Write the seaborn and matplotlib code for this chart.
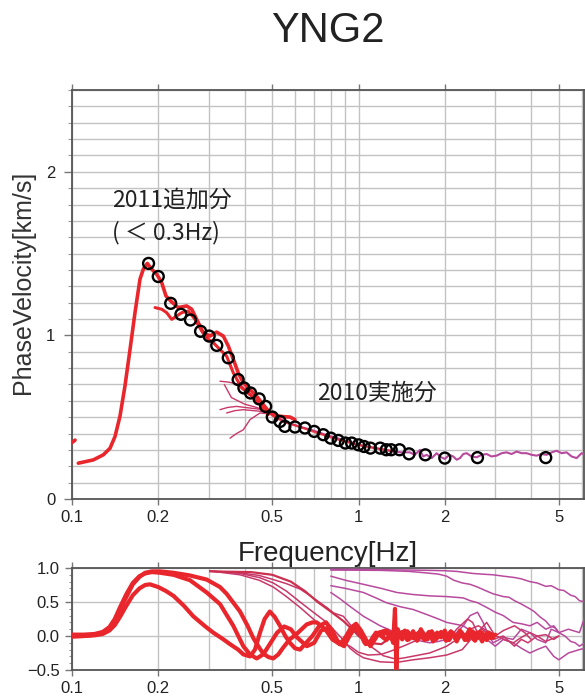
import matplotlib
matplotlib.use("Agg")
import matplotlib.pyplot as plt
import seaborn as sns
import pandas as pd
from matplotlib.ticker import FixedLocator, NullFormatter, MultipleLocator

# ---------------- data ----------------
title_text = "YNG2"
ylabel_text = "PhaseVelocity[km/s]"
xlabel_text = "Frequency[Hz]"
note_2011 = "2011追加分"
note_2011b = "( ＜ 0.3Hz)"
note_2010 = "2010実施分"

x_major = [0.1, 0.2, 0.5, 1, 2, 5]
x_major_labels = ["0.1", "0.2", "0.5", "1", "2", "5"]
x_minor = [0.3, 0.4, 0.6, 0.7, 0.8, 0.9, 3, 4, 6]
top_yticks = [0, 1, 2]
bot_yticks = [-0.5, 0.0, 0.5, 1.0]
bot_ylabels = ["\u22120.5", "0.0", "0.5", "1.0"]

# black circles: picked dispersion curve
circ_f = [0.185, 0.200, 0.221, 0.240, 0.259, 0.281, 0.301, 0.320, 0.351, 0.380,
          0.398, 0.420, 0.450, 0.474, 0.500, 0.532, 0.553, 0.600, 0.650, 0.700,
          0.753, 0.800, 0.850, 0.900, 0.946, 1.000, 1.045, 1.100, 1.190, 1.250,
          1.300, 1.390, 1.500, 1.710, 2.000, 2.600, 4.500]
circ_v = [1.44, 1.36, 1.196, 1.129, 1.094, 1.025, 0.996, 0.939, 0.863, 0.730,
          0.679, 0.648, 0.612, 0.566, 0.501, 0.474, 0.444, 0.440, 0.434, 0.413,
          0.393, 0.372, 0.358, 0.342, 0.342, 0.331, 0.321, 0.311, 0.311, 0.301,
          0.301, 0.301, 0.276, 0.270, 0.250, 0.253, 0.253]

# top panel, 2011 (red) phase velocity curves
pv2011_a = [(0.1052, 0.219), (0.1187, 0.239), (0.1286, 0.27), (0.1357, 0.31), (0.1413, 0.382),
            (0.147, 0.505), (0.153, 0.689), (0.1594, 0.914), (0.1659, 1.139), (0.1727, 1.344),
            (0.1774, 1.405), (0.1832, 1.44), (0.1897, 1.405), (0.1975, 1.374), (0.2056, 1.323),
            (0.2128, 1.241), (0.2228, 1.204), (0.235, 1.17), (0.2512, 1.18), (0.2617, 1.16),
            (0.2723, 1.098), (0.2872, 1.016), (0.303, 0.996), (0.3198, 1.02), (0.3373, 0.996),
            (0.3512, 0.935), (0.3656, 0.853), (0.3804, 0.771), (0.3961, 0.71), (0.418, 0.669),
            (0.441, 0.628), (0.465, 0.577), (0.491, 0.526), (0.532, 0.505), (0.576, 0.501),
            (0.6, 0.485)]
pv2011_b = [(0.1949, 1.17), (0.2056, 1.16), (0.214, 1.139), (0.2228, 1.098), (0.2317, 1.118),
            (0.2415, 1.139), (0.2546, 1.149), (0.2687, 1.098), (0.2836, 1.027), (0.2989, 0.976),
            (0.3114, 0.955), (0.3284, 0.914), (0.3465, 0.873), (0.3656, 0.771), (0.391, 0.679),
            (0.424, 0.628), (0.453, 0.577), (0.484, 0.516)]
pv2011_c = [(0.5, 0.51), (0.55, 0.47), (0.6, 0.45), (0.65, 0.43), (0.7, 0.41), (0.76, 0.39),
            (0.82, 0.37), (0.88, 0.355), (0.95, 0.34), (1.0, 0.33), (1.07, 0.32), (1.15, 0.31),
            (1.25, 0.30), (1.35, 0.29)]
pv2011_edge = [(0.1, 0.345), (0.1025, 0.36)]

# top panel, 2010 (magenta) phase velocity curves
pv2010_main = [(0.478, 0.53), (0.505, 0.51), (0.532, 0.49), (0.56, 0.47), (0.592, 0.455),
               (0.63, 0.44), (0.677, 0.425), (0.72, 0.41), (0.774, 0.39), (0.83, 0.375),
               (0.885, 0.36), (0.95, 0.345), (1.011, 0.33), (1.08, 0.32), (1.157, 0.31),
               (1.24, 0.30), (1.322, 0.29), (1.41, 0.285), (1.511, 0.285), (1.57, 0.27),
               (1.638, 0.30), (1.68, 0.26), (1.728, 0.27), (1.80, 0.25), (1.873, 0.28),
               (1.94, 0.255), (2.002, 0.245), (2.07, 0.27), (2.141, 0.26), (2.2, 0.24),
               (2.259, 0.25), (2.32, 0.275), (2.384, 0.28), (2.48, 0.26), (2.582, 0.255),
               (2.69, 0.27), (2.799, 0.275), (2.91, 0.26), (3.032, 0.265), (3.16, 0.28),
               (3.286, 0.285), (3.42, 0.275), (3.561, 0.29), (3.71, 0.28), (3.859, 0.28),
               (4.02, 0.27), (4.182, 0.265), (4.35, 0.275), (4.532, 0.27), (4.72, 0.285),
               (4.912, 0.295), (5.11, 0.28), (5.323, 0.285), (5.54, 0.26), (5.768, 0.25),
               (6.0, 0.28), (6.17, 0.27)]
pv2010_p1 = [(0.3284, 0.72), (0.35, 0.715), (0.3857, 0.70), (0.41, 0.66), (0.429, 0.628),
             (0.465, 0.566), (0.49, 0.53)]
pv2010_p2 = [(0.3284, 0.546), (0.35, 0.56), (0.3755, 0.566), (0.40, 0.56), (0.418, 0.556),
             (0.465, 0.546), (0.49, 0.53)]
pv2010_p3 = [(0.3465, 0.526), (0.37, 0.54), (0.3961, 0.546), (0.43, 0.54), (0.455, 0.536),
             (0.49, 0.525)]
pv2010_p4 = [(0.356, 0.372), (0.375, 0.40), (0.396, 0.423), (0.418, 0.485), (0.453, 0.526),
             (0.49, 0.52)]
pv2010_p5 = [(0.34, 0.70), (0.36, 0.62), (0.40, 0.58), (0.44, 0.56), (0.48, 0.535)]

# bottom panel, 2011 (red) coherence curves
coh2011_a = [(0.1, 0.0), (0.11, 0.0), (0.12, 0.01), (0.128, 0.03), (0.135, 0.08), (0.141, 0.16),
             (0.147, 0.28), (0.155, 0.45), (0.163, 0.60), (0.172, 0.70), (0.18, 0.75), (0.187, 0.76),
             (0.2, 0.72), (0.213, 0.66), (0.226, 0.59), (0.245, 0.45), (0.265, 0.29), (0.29, 0.15),
             (0.311, 0.05), (0.335, -0.04), (0.356, -0.12), (0.38, -0.2), (0.396, -0.27),
             (0.418, -0.30), (0.435, -0.2), (0.453, 0.05), (0.47, 0.25), (0.49, 0.36), (0.51, 0.28),
             (0.532, 0.15), (0.555, 0.0), (0.576, -0.1), (0.6, -0.18), (0.625, -0.2), (0.65, -0.12),
             (0.69, 0.0), (0.73, 0.15), (0.77, 0.2), (0.81, 0.08), (0.85, -0.1), (0.89, -0.15),
             (0.93, 0.0), (0.97, 0.12), (1.01, 0.05), (1.05, -0.1), (1.09, -0.12), (1.13, 0.0),
             (1.18, 0.05), (1.22, 0.02), (1.26, 0.08), (1.30, 0.0), (1.32, -0.1), (1.34, 0.40),
             (1.355, -0.49), (1.37, 0.1), (1.40, 0.0), (1.45, 0.08), (1.50, -0.05), (1.55, 0.07),
             (1.60, -0.04), (1.65, 0.1), (1.70, -0.03), (1.76, 0.06), (1.82, -0.08), (1.88, 0.05),
             (1.94, -0.02), (2.0, 0.08), (2.07, -0.06), (2.14, 0.04), (2.2, -0.08), (2.28, 0.06),
             (2.36, -0.03), (2.44, 0.1), (2.52, -0.05), (2.6, 0.05), (2.7, -0.08), (2.8, 0.04),
             (2.9, -0.03), (3.0, 0.02)]
coh2011_b = [(0.1, 0.02), (0.11, 0.02), (0.12, 0.03), (0.128, 0.06), (0.135, 0.13), (0.141, 0.25),
             (0.147, 0.42), (0.155, 0.62), (0.163, 0.78), (0.172, 0.88), (0.18, 0.92), (0.19, 0.94),
             (0.2028, 0.93), (0.226, 0.90), (0.2581, 0.82), (0.2951, 0.64), (0.3284, 0.47),
             (0.3655, 0.15), (0.3961, -0.15), (0.4178, -0.27), (0.4411, -0.33), (0.465, -0.27),
             (0.49, -0.12), (0.52, 0.05), (0.55, 0.14), (0.58, 0.10), (0.61, -0.02), (0.66, -0.15),
             (0.70, -0.1), (0.74, 0.08), (0.78, 0.12), (0.82, 0.0), (0.86, -0.12), (0.90, -0.08),
             (0.94, 0.1), (0.98, 0.15), (1.02, 0.02), (1.06, -0.12), (1.10, -0.08), (1.15, 0.05),
             (1.2, 0.0), (1.25, -0.06), (1.3, 0.05), (1.36, -0.05), (1.42, 0.06), (1.48, -0.06),
             (1.54, 0.04), (1.6, -0.07), (1.67, 0.06), (1.74, -0.05), (1.8, 0.07), (1.87, -0.04),
             (1.95, 0.05), (2.02, -0.07), (2.1, 0.06), (2.18, -0.04), (2.26, 0.08), (2.35, -0.06),
             (2.45, 0.03), (2.55, -0.07), (2.65, 0.06), (2.75, -0.04), (2.85, 0.05), (2.95, -0.02)]
coh2011_c = [(0.1, -0.01), (0.11, 0.0), (0.12, 0.02), (0.128, 0.05), (0.135, 0.11), (0.141, 0.22),
             (0.147, 0.38), (0.155, 0.58), (0.163, 0.76), (0.172, 0.87), (0.18, 0.93), (0.19, 0.95),
             (0.2028, 0.95), (0.226, 0.93), (0.2581, 0.89), (0.2951, 0.83), (0.3284, 0.72),
             (0.3465, 0.62), (0.3857, 0.36), (0.41, 0.15), (0.4292, -0.03), (0.45, -0.17),
             (0.465, -0.26), (0.485, -0.31), (0.504, -0.33), (0.525, -0.27), (0.546, -0.17),
             (0.575, -0.05), (0.608, 0.03), (0.659, 0.17), (0.69, 0.2), (0.714, 0.2), (0.745, 0.14),
             (0.774, 0.07), (0.81, -0.05), (0.861, -0.12), (0.90, -0.02), (0.94, 0.12), (0.98, 0.18),
             (1.02, 0.08), (1.06, -0.05), (1.10, -0.15), (1.14, -0.05), (1.18, 0.05), (1.24, 0.08),
             (1.3, -0.04), (1.36, 0.05), (1.42, -0.05), (1.48, 0.07), (1.55, -0.03), (1.62, 0.05),
             (1.7, -0.06), (1.78, 0.04), (1.86, -0.05), (1.94, 0.06), (2.02, -0.03), (2.1, 0.07),
             (2.2, -0.05), (2.3, 0.04), (2.4, -0.06), (2.5, 0.07), (2.6, -0.03), (2.7, 0.05),
             (2.8, -0.06), (2.9, 0.03)]

# bottom panel, 2010 coherence curves starting at 0.3 Hz (crimson)
coh2010_c1 = [(0.303, 0.956), (0.386, 0.93), (0.45, 0.89), (0.504, 0.83), (0.56, 0.77), (0.625, 0.69),
              (0.68, 0.59), (0.733, 0.49), (0.78, 0.41), (0.816, 0.34), (0.885, 0.29), (0.93, 0.18),
              (0.985, 0.05), (1.04, -0.05), (1.10, -0.15), (1.16, -0.22), (1.22, -0.29), (1.35, -0.34),
              (1.45, -0.32), (1.58, -0.29), (1.77, -0.25), (1.9, -0.2), (2.03, -0.15), (2.15, -0.08),
              (2.32, 0.0), (2.45, 0.1), (2.62, 0.15), (2.8, 0.08), (3.03, 0.0), (3.25, -0.06),
              (3.47, -0.1), (3.7, -0.02), (3.96, 0.05), (4.2, 0.0), (4.5, 0.02), (4.8, -0.05), (5.0, 0.0)]
coh2010_c2 = [(0.303, 0.956), (0.386, 0.92), (0.45, 0.86), (0.504, 0.78), (0.56, 0.66), (0.625, 0.50),
              (0.695, 0.35), (0.774, 0.20), (0.816, 0.10), (0.885, -0.06), (0.933, -0.18), (0.985, -0.26),
              (1.04, -0.32), (1.19, -0.38), (1.35, -0.39), (1.55, -0.35), (1.77, -0.32), (2.03, -0.28),
              (2.3, -0.2), (2.5, -0.02), (2.7, 0.1), (2.85, 0.02), (2.95, -0.05), (3.2, 0.0),
              (3.5, -0.15), (3.7, -0.05), (3.9, -0.1), (4.2, 0.0), (4.5, -0.08), (5.0, 0.0)]
coh2010_c3 = [(0.303, 0.956), (0.386, 0.90), (0.45, 0.82), (0.504, 0.72), (0.56, 0.58), (0.625, 0.42),
              (0.695, 0.25), (0.774, 0.08), (0.84, -0.05), (0.933, -0.15), (1.0, -0.24), (1.08, -0.28),
              (1.2, -0.27), (1.3, -0.22), (1.45, -0.14), (1.6, -0.06), (1.75, 0.0), (1.9, 0.05),
              (2.03, -0.08), (2.2, 0.1), (2.4, 0.25), (2.5, 0.2), (2.6, 0.05), (2.8, 0.2), (3.0, 0.0),
              (3.2, 0.08), (3.5, 0.15), (3.8, 0.05), (4.0, -0.05)]
coh2010_c4 = [(0.303, 0.95), (0.42, 0.94), (0.5, 0.90), (0.58, 0.80), (0.65, 0.66), (0.72, 0.50),
              (0.8, 0.36), (0.885, 0.22), (0.95, 0.10), (1.0, 0.0), (1.08, -0.10), (1.2, -0.12),
              (1.3, -0.02), (1.4, 0.05), (1.55, 0.0)]

# bottom panel, 2010 coherence curves starting at 0.8 Hz (magenta)
coh2010_d1 = [(0.8, 0.98), (1.0, 0.98), (1.2, 0.975), (1.5, 0.97), (1.77, 0.965), (2.0, 0.96),
              (2.2, 0.95), (2.4, 0.93), (2.5, 0.92), (2.7, 0.91), (2.95, 0.90), (3.2, 0.88),
              (3.5, 0.86), (3.7, 0.84), (3.96, 0.80), (4.2, 0.78), (4.5, 0.73), (4.7, 0.74),
              (5.0, 0.68), (5.2, 0.67), (5.5, 0.60), (5.7, 0.58), (5.9, 0.52), (6.16, 0.50)]
coh2010_d2 = [(0.8, 0.97), (1.2, 0.965), (1.5, 0.95), (1.7, 0.93), (1.9, 0.91), (2.03, 0.88),
              (2.15, 0.82), (2.3, 0.78), (2.45, 0.76), (2.6, 0.72), (2.8, 0.66), (2.95, 0.62),
              (3.2, 0.58), (3.35, 0.57), (3.5, 0.52), (3.7, 0.47), (3.96, 0.40), (4.1, 0.36),
              (4.3, 0.28), (4.5, 0.22), (4.65, 0.15), (4.85, 0.12), (5.0, 0.05), (5.25, 0.0),
              (5.5, -0.08), (5.7, -0.1), (5.9, -0.15), (6.16, -0.1)]
coh2010_d3 = [(0.8, 0.88), (0.9, 0.82), (1.04, 0.76), (1.2, 0.70), (1.36, 0.64), (1.55, 0.61),
              (1.77, 0.59), (2.03, 0.58), (2.32, 0.56), (2.45, 0.52), (2.6, 0.49), (2.8, 0.42),
              (3.0, 0.35), (3.2, 0.30), (3.46, 0.20), (3.7, 0.18), (3.96, 0.15), (4.2, 0.20),
              (4.5, 0.10), (4.8, 0.15), (5.0, 0.05), (5.4, 0.10), (5.9, 0.05), (6.16, 0.28)]
coh2010_d4 = [(0.8, 0.74), (0.9, 0.70), (1.04, 0.64), (1.15, 0.56), (1.25, 0.49), (1.4, 0.43),
              (1.55, 0.39), (1.77, 0.30), (1.9, 0.25), (2.03, 0.20), (2.2, 0.17), (2.32, 0.15),
              (2.45, 0.08), (2.6, 0.05), (2.8, -0.05), (3.0, -0.15), (3.2, -0.05), (3.46, -0.10),
              (3.7, -0.18), (3.96, -0.25), (4.2, -0.2), (4.5, -0.15), (4.8, -0.3), (5.0, -0.35),
              (5.4, -0.25), (5.9, -0.2), (6.16, -0.18)]
coh2010_d5 = [(0.8, 0.64), (0.86, 0.55), (0.93, 0.44), (1.04, 0.29), (1.19, 0.15), (1.35, 0.05),
              (1.55, -0.05), (1.77, -0.1), (1.9, -0.08), (2.03, -0.05), (2.2, 0.05), (2.32, 0.15),
              (2.45, 0.30), (2.6, 0.35), (2.72, 0.2), (2.85, 0.0), (2.95, -0.1), (3.2, -0.02),
              (3.46, -0.05), (3.7, 0.1), (3.96, 0.05), (4.2, -0.05), (4.5, -0.1), (4.7, 0.1), (5.0, 0.05)]

# ---------------- styling ----------------
RED = "#e8262c"
CRIMSON = "#c8386a"
MAGENTA = "#b84a9e"
GRID = "#c2c2c2"
SPINE = "#555555"

sns.set_theme(style="white")
plt.rcParams["font.family"] = ["Liberation Sans", "DejaVu Sans"]
CJK = ["Noto Sans CJK JP", "DejaVu Sans"]

fig = plt.figure(figsize=(5.85, 7.0), dpi=100)
fig.patch.set_facecolor("white")
ax1 = fig.add_axes([72 / 585, (700 - 499) / 700, (584 - 72) / 585, (499 - 90) / 700])
ax2 = fig.add_axes([72 / 585, (700 - 670) / 700, (584 - 72) / 585, (670 - 568) / 700])


def draw(ax, pts, color, lw, z, alpha=1.0):
    df = pd.DataFrame(pts, columns=["f", "v"])
    sns.lineplot(data=df, x="f", y="v", ax=ax, color=color, lw=lw, sort=False,
                 estimator=None, zorder=z, alpha=alpha, legend=False)


for ax in (ax1, ax2):
    ax.set_xscale("log")
    ax.set_facecolor("white")

# top panel
for c in (pv2010_p1, pv2010_p2, pv2010_p3, pv2010_p4, pv2010_p5):
    draw(ax1, c, CRIMSON, 1.0, 3)
draw(ax1, pv2010_main, MAGENTA, 1.5, 3)
draw(ax1, pv2011_c, RED, 1.6, 4, alpha=0.8)
draw(ax1, pv2011_b, RED, 2.2, 4)
draw(ax1, pv2011_a, RED, 2.6, 5)
draw(ax1, pv2011_edge, RED, 2.6, 5)
circ_df = pd.DataFrame({"f": circ_f, "v": circ_v})
sns.scatterplot(data=circ_df, x="f", y="v", ax=ax1, s=62, facecolor="none",
                edgecolor="black", linewidth=1.7, zorder=6, legend=False)

# bottom panel
for c in (coh2010_d1, coh2010_d2, coh2010_d3, coh2010_d4, coh2010_d5):
    draw(ax2, c, MAGENTA, 1.1, 3)
for c in (coh2010_c1, coh2010_c2, coh2010_c3):
    draw(ax2, c, CRIMSON, 1.1, 3)
draw(ax2, coh2010_c4, "#cc3050", 1.6, 3)
for c in (coh2011_a, coh2011_b, coh2011_c):
    draw(ax2, c, RED, 3.0, 5)

# axes formatting
for ax in (ax1, ax2):
    ax.set_xlim(0.1, 6.12)
    ax.xaxis.set_major_locator(FixedLocator(x_major))
    ax.xaxis.set_minor_locator(FixedLocator(x_minor))
    ax.set_xticklabels(x_major_labels)
    ax.xaxis.set_minor_formatter(NullFormatter())
    ax.tick_params(axis="x", which="major", top=True, bottom=True, direction="out",
                   length=4, width=1, color="#777777", labelsize=12, pad=4,
                   labelcolor="#222222")
    ax.tick_params(axis="x", which="minor", length=0)
    ax.grid(True, which="both", axis="x", color=GRID, lw=1.0, zorder=0)
    ax.set_xlabel("")
    ax.set_ylabel("")
    for s in ax.spines.values():
        s.set_color(SPINE)
        s.set_linewidth(1.3)
    ax.set_axisbelow(True)

ax1.set_ylim(0, 2.5)
ax1.yaxis.set_major_locator(FixedLocator(top_yticks))
ax1.yaxis.set_minor_locator(MultipleLocator(0.1))
ax1.set_yticklabels([str(t) for t in top_yticks])
ax1.tick_params(axis="y", which="major", left=True, direction="out", length=6, width=1,
                color="#777777", labelsize=12, pad=6, labelcolor="#222222")
ax1.tick_params(axis="y", which="minor", left=True, direction="out", length=3, width=0.8,
                color="#999999")
ax1.grid(True, which="both", axis="y", color=GRID, lw=1.0)

ax2.set_ylim(-0.5, 1.0)
ax2.yaxis.set_major_locator(FixedLocator(bot_yticks))
ax2.yaxis.set_minor_locator(MultipleLocator(0.1))
ax2.set_yticklabels(bot_ylabels)
ax2.tick_params(axis="y", which="major", left=True, direction="out", length=5, width=1,
                color="#777777", labelsize=12, pad=4, labelcolor="#222222")
ax2.tick_params(axis="y", which="minor", left=True, direction="out", length=2.5, width=0.8,
                color="#999999")
ax2.grid(True, which="major", axis="y", color=GRID, lw=1.0)
ax2.grid(False, which="minor", axis="y")

# texts
fig.text(328 / 585, 1 - 31 / 700, title_text, ha="center", va="center", fontsize=30,
         color="#222222")
fig.text(23 / 585, 1 - 282 / 700, ylabel_text, ha="center", va="center", rotation=90,
         fontsize=18, color="#333333")
fig.text(328 / 585, 1 - 554 / 700, xlabel_text, ha="center", va="center", fontsize=20,
         color="#222222")
ax1.text((112 - 72) / 512, (499 - 200) / 409, note_2011, transform=ax1.transAxes,
         ha="left", va="center", fontsize=16.5, family=CJK, color="#222222")
ax1.text((112 - 72) / 512, (499 - 233) / 409, note_2011b, transform=ax1.transAxes,
         ha="left", va="center", fontsize=16.5, family=CJK, color="#222222")
ax1.text((317 - 72) / 512, (499 - 393) / 409, note_2010, transform=ax1.transAxes,
         ha="left", va="center", fontsize=16.5, family=CJK, color="#222222")

fig.savefig("out.png", dpi=100)
